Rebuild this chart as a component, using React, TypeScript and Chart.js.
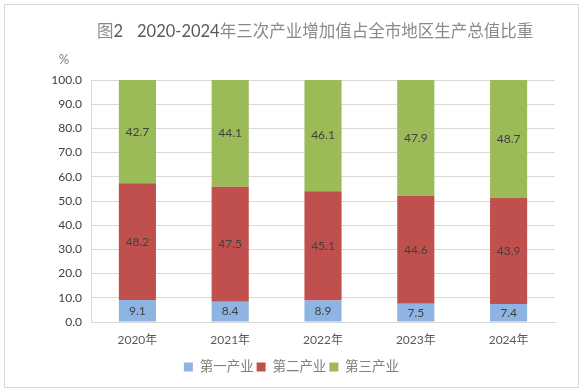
import React, { useEffect, useRef } from "react";
import { Chart, registerables } from "chart.js";

Chart.register(...registerables);

const categories = ["2020年", "2021年", "2022年", "2023年", "2024年"];
const primary = [9.1, 8.4, 8.9, 7.5, 7.4];
const secondary = [48.2, 47.5, 45.1, 44.6, 43.9];
const tertiary = [42.7, 44.1, 46.1, 47.9, 48.7];
const seriesNames = ["第一产业", "第二产业", "第三产业"];
const titleLabel = "图2";
const titleYears = "2020-2024";
const titleRest = "年三次产业增加值占全市地区生产总值比重";

const FONT = "Lato, 'Noto Sans CJK SC', sans-serif";

const decorPlugin = {
  id: "decor",
  beforeDraw(chart: any) {
    const ctx = chart.ctx;
    ctx.save();
    ctx.fillStyle = "#ffffff";
    ctx.fillRect(0, 0, chart.width, chart.height);
    ctx.strokeStyle = "#d9d9d9";
    ctx.lineWidth = 1;
    ctx.strokeRect(4.5, 4.5, 574, 383);
    ctx.font = `16.5px ${FONT}`;
    ctx.textAlign = "left";
    ctx.textBaseline = "middle";
    // title: "图" light, "2" dark
    ctx.fillStyle = "#8a8a8a";
    ctx.fillText(titleLabel.slice(0, 1), 97, 32);
    let x = 97 + ctx.measureText(titleLabel.slice(0, 1)).width;
    ctx.fillStyle = "#595959";
    ctx.fillText(titleLabel.slice(1), x, 32);
    x = 137;
    ctx.fillText(titleYears, x, 32);
    x += ctx.measureText(titleYears).width;
    ctx.fillStyle = "#8a8a8a";
    ctx.fillText(titleRest, x, 32);
    ctx.font = `13px ${FONT}`;
    ctx.textAlign = "center";
    ctx.fillStyle = "#7f7f7f";
    ctx.fillText("%", 64, 60);
    ctx.restore();
  },
  afterDatasetsDraw(chart: any) {
    const ctx = chart.ctx;
    ctx.save();
    ctx.fillStyle = "#404040";
    ctx.font = `12px ${FONT}`;
    ctx.textAlign = "center";
    ctx.textBaseline = "middle";
    chart.data.datasets.forEach((ds: any, i: number) => {
      const meta = chart.getDatasetMeta(i);
      meta.data.forEach((el: any, j: number) => {
        const v = ds.data[j];
        const y = (el.y + el.base) / 2;
        ctx.fillText(v.toFixed(1), el.x, y);
      });
    });
    ctx.restore();
  },
};

export default function App() {
  const ref = useRef<HTMLCanvasElement>(null);
  useEffect(() => {
    if (!ref.current) return;
    const chart = new Chart(ref.current, {
      type: "bar",
      data: {
        labels: categories,
        datasets: [
          { label: seriesNames[0], data: primary, backgroundColor: "#8EB4E3" },
          { label: seriesNames[1], data: secondary, backgroundColor: "#C0504D" },
          { label: seriesNames[2], data: tertiary, backgroundColor: "#9BBB59" },
        ],
      },
      options: {
        responsive: false,
        animation: false,
        layout: { padding: { top: 80, right: 0, bottom: 7.25, left: 0 } },
        datasets: { bar: { categoryPercentage: 1, barPercentage: 0.4 } } as any,
        plugins: {
          title: { display: false },
          tooltip: { enabled: false },
          legend: {
            position: "bottom",
            labels: {
              boxWidth: 9,
              boxHeight: 9,
              padding: 3,
              color: "#7f7f7f",
              font: { family: FONT, size: 13.5 },
            },
          },
        },
        scales: {
          x: {
            stacked: true,
            grid: { display: false, drawTicks: false },
            border: { display: true, color: "#d9d9d9" },
            ticks: { color: "#595959", font: { family: FONT, size: 12 }, padding: 11 },
            afterFit: (s: any) => { s.height = 35.25; },
          },
          y: {
            stacked: true,
            min: 0,
            max: 100,
            grid: { color: "#d9d9d9", drawTicks: false },
            border: { display: true, color: "#d9d9d9" },
            ticks: {
              stepSize: 10,
              color: "#404040",
              padding: 9,
              font: { family: FONT, size: 12 },
              callback: (v: any) => Number(v).toFixed(1),
            },
            afterFit: (s: any) => { s.width = 91; },
          },
          yRight: {
            position: "right",
            min: 0,
            max: 100,
            grid: { display: false, drawTicks: false },
            border: { display: false },
            ticks: { display: false },
            afterFit: (s: any) => { s.width = 28; },
          },
        },
      },
      plugins: [decorPlugin],
    });
    return () => chart.destroy();
  }, []);
  return (
    <div style={{ position: "absolute", left: 0, top: 0, width: 583, height: 391 }}>
      <canvas ref={ref} width={583} height={391} />
    </div>
  );
}
